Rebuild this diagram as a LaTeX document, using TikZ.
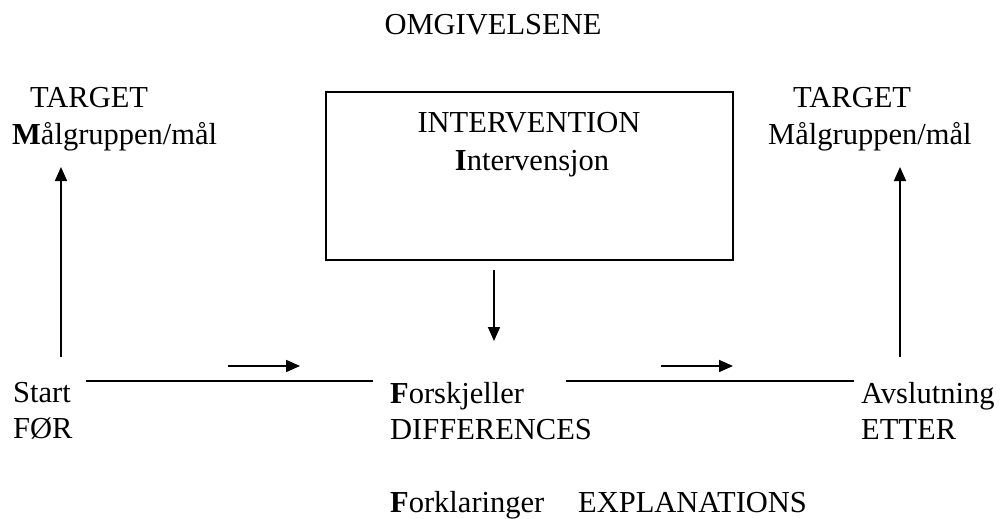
\documentclass[tikz,border=0pt]{standalone}
\usepackage{fontspec}
\setmainfont{Liberation Serif}
\usetikzlibrary{arrows.meta}

\begin{document}
\begin{tikzpicture}[x=1pt,y=-1pt,
  lbl/.style={anchor=base west,inner sep=0pt,font=\fontsize{30.5}{36}\selectfont},
  arr/.style={line width=1.7pt,-{Triangle[length=14pt,width=12pt]}},
  ln/.style={line width=1.7pt}]
\useasboundingbox (0,0) rectangle (1007,519);
% top label
\node[lbl,anchor=base] (omg) at (493,35) {OMGIVELSENE};
% targets
\node[lbl] (tgtL) at (30,107) {TARGET};
\node[lbl] (grpL) at (12,144) {\textbf{M}ålgruppen/mål};
\node[lbl] (tgtR) at (793,107) {TARGET};
\node[lbl] (grpR) at (768,144) {Målgruppen/mål};
% intervention box
\node[draw,line width=1.9pt,minimum width=407pt,minimum height=168pt,inner sep=0pt] (ivbox) at (529.5,176) {};
\node[lbl,anchor=base] (iven) at (529,132) {INTERVENTION};
\node[lbl,anchor=base] (ivno) at (532,170) {\textbf{I}ntervensjon};
% bottom row
\node[lbl] (start) at (13,402) {Start};
\node[lbl] (foer) at (13,438) {FØR};
\node[lbl] (forsk) at (390,403) {\textbf{F}orskjeller};
\node[lbl] (diff) at (390,439) {DIFFERENCES};
\node[lbl] (avsl) at (861,403) {Avslutning};
\node[lbl] (etter) at (861,439) {ETTER};
\node[lbl] (forkl) at (390,512) {\textbf{F}orklaringer};
\node[lbl] (expl) at (578,512) {EXPLANATIONS};
% end points
\coordinate (lowL) at (61,357);
\coordinate (topL) at (61,167);
\coordinate (lowR) at (900,357);
\coordinate (topR) at (900,167);
\coordinate (ivout) at (494,270);
\coordinate (ivtip) at (494,341);
\coordinate (lnLa) at (86,381);
\coordinate (lnLb) at (373,381);
\coordinate (lnRa) at (566,381);
\coordinate (lnRb) at (854,381);
\coordinate (smLa) at (228,366);
\coordinate (smLb) at (300,366);
\coordinate (smRa) at (661,366);
\coordinate (smRb) at (733,366);
% connectors
\draw[arr] (lowL) -- (topL);
\draw[arr] (lowR) -- (topR);
\draw[arr] (ivout) -- (ivtip);
\draw[ln] (lnLa) -- (lnLb);
\draw[ln] (lnRa) -- (lnRb);
\draw[arr] (smLa) -- (smLb);
\draw[arr] (smRa) -- (smRb);
\end{tikzpicture}
\end{document}
